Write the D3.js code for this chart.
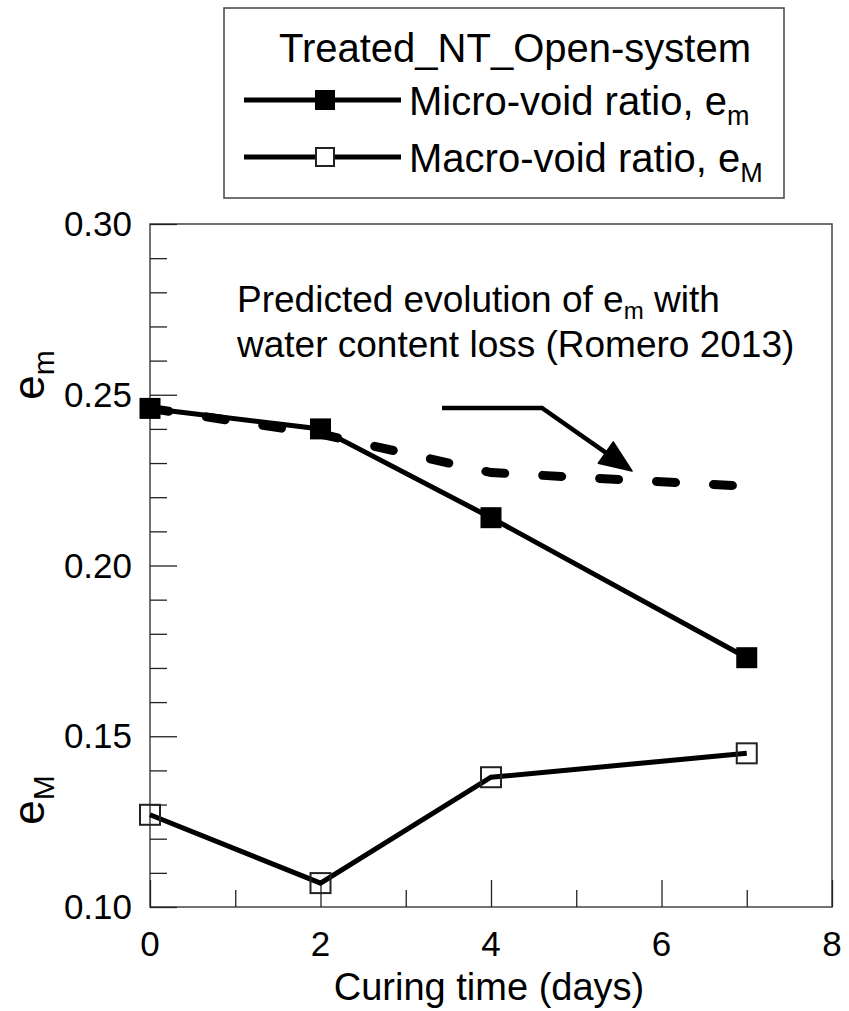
<!DOCTYPE html>
<html>
<head>
<meta charset="utf-8">
<script src="https://cdn.jsdelivr.net/npm/d3@7"></script>
<style>
  html, body { margin: 0; padding: 0; background: #fff; }
  svg { display: block; }
  text { font-family: "Liberation Sans", Arial, Helvetica, sans-serif; fill: #000; }
</style>
</head>
<body>
<svg id="chart" width="849" height="1011"></svg>
<script>
// ---- data ----
const curingDays = [0, 2, 4, 7];
const microVoidRatio = [0.246, 0.240, 0.214, 0.173];
const macroVoidRatio = [0.127, 0.107, 0.138, 0.145];
const predictedDays = [0, 2, 4, 7];
const predictedMicro = [0.246, 0.2385, 0.2272, 0.2232];
const xMajorTicks = [0, 2, 4, 6, 8];
const xMinorTicks = [1, 3, 5, 7];
const yMajorTicks = [0.10, 0.15, 0.20, 0.25, 0.30];
const yMinorTicks = [0.11, 0.12, 0.13, 0.14, 0.16, 0.17, 0.18, 0.19, 0.21, 0.22, 0.23, 0.24, 0.26, 0.27, 0.28, 0.29];
const legendTitle = "Treated_NT_Open-system";
const seriesNames = [["Micro-void ratio, e", "m"], ["Macro-void ratio, e", "M"]];
const xAxisTitle = "Curing time (days)";

// ---- layout ----
const svg = d3.select("#chart");
const L = 150, R = 832, T = 224, B = 907;
const x = d3.scaleLinear().domain([0, 8]).range([L, R]);
const y = d3.scaleLinear().domain([0.10, 0.30]).range([B, T]);

// frame
svg.append("rect").attr("x", L).attr("y", T).attr("width", R - L).attr("height", B - T)
  .attr("fill", "none").attr("stroke", "#444").attr("stroke-width", 1.5);

// axes with inward ticks
const gx = svg.append("g").attr("transform", `translate(0,${B})`);
gx.call(d3.axisTop(x).tickValues(xMajorTicks).tickSize(27).tickFormat(""));
gx.call(g => g.select(".domain").remove());
const gxm = svg.append("g").attr("transform", `translate(0,${B})`);
gxm.call(d3.axisTop(x).tickValues(xMinorTicks).tickSize(17).tickFormat(""));
gxm.call(g => g.select(".domain").remove());

const gy = svg.append("g").attr("transform", `translate(${L},0)`);
gy.call(d3.axisRight(y).tickValues(yMajorTicks).tickSize(27).tickFormat(""));
gy.call(g => g.select(".domain").remove());
const gym = svg.append("g").attr("transform", `translate(${L},0)`);
gym.call(d3.axisRight(y).tickValues(yMinorTicks).tickSize(17).tickFormat(""));
gym.call(g => g.select(".domain").remove());
svg.selectAll(".tick line").attr("stroke", "#222").attr("stroke-width", 1.3);

// tick labels
svg.append("g").selectAll("text").data(xMajorTicks).join("text")
  .attr("x", d => x(d)).attr("y", B + 49).attr("text-anchor", "middle")
  .attr("font-size", 35).text(d => d);
svg.append("g").selectAll("text").data(yMajorTicks).join("text")
  .attr("x", L - 18).attr("y", d => y(d) + 12).attr("text-anchor", "end")
  .attr("font-size", 35).text(d => d.toFixed(2));

// axis title
svg.append("text").attr("x", (L + R) / 2 - 2).attr("y", 1000).attr("text-anchor", "middle")
  .attr("font-size", 38).text(xAxisTitle);

// y axis labels (rotated e_m and e_M)
function yLabel(cy, sub) {
  const t = svg.append("text").attr("transform", `translate(44,${cy}) rotate(-90)`)
    .attr("text-anchor", "middle").attr("font-size", 44);
  t.append("tspan").text("e");
  t.append("tspan").attr("font-size", 30).attr("dy", 10).text(sub);
}
yLabel(375, "m");
yLabel(800, "M");

// predicted dashed line
const line = d3.line().x(d => x(d[0])).y(d => y(d[1]));
svg.append("path").datum(predictedDays.map((d, i) => [d, predictedMicro[i]]))
  .attr("d", line).attr("fill", "none").attr("stroke", "#000")
  .attr("stroke-width", 9).attr("stroke-linecap", "round")
  .attr("stroke-dasharray", "19 38");

// series lines
const microPts = curingDays.map((d, i) => [d, microVoidRatio[i]]);
const macroPts = curingDays.map((d, i) => [d, macroVoidRatio[i]]);
svg.append("path").datum(microPts).attr("d", line).attr("fill", "none")
  .attr("stroke", "#000").attr("stroke-width", 5);
svg.append("path").datum(macroPts).attr("d", line).attr("fill", "none")
  .attr("stroke", "#000").attr("stroke-width", 5);

// markers
const ms = 21;
svg.append("g").selectAll("rect").data(microPts).join("rect")
  .attr("x", d => x(d[0]) - ms / 2).attr("y", d => y(d[1]) - ms / 2)
  .attr("width", ms).attr("height", ms).attr("fill", "#000");
const mo = 20;
svg.append("g").selectAll("rect").data(macroPts).join("rect")
  .attr("x", d => x(d[0]) - mo / 2).attr("y", d => y(d[1]) - mo / 2)
  .attr("width", mo).attr("height", mo).attr("fill", "none")
  .attr("stroke", "#222").attr("stroke-width", 2);

// annotation text
const ann = svg.append("text").attr("x", 237).attr("y", 312).attr("font-size", 37);
ann.append("tspan").text("Predicted evolution of e");
ann.append("tspan").attr("font-size", 24).attr("dy", 7).text("m");
ann.append("tspan").attr("dy", -7).text(" with");
svg.append("text").attr("x", 237).attr("y", 357).attr("font-size", 37)
  .text("water content loss (Romero 2013)");

// annotation arrow
const tip = [632, 471], elbow = [542, 408], start = [442, 408];
const ang = Math.atan2(tip[1] - elbow[1], tip[0] - elbow[0]);
const hl = 32, hw = 13;
const base = [tip[0] - hl * Math.cos(ang), tip[1] - hl * Math.sin(ang)];
svg.append("path")
  .attr("d", `M${start}L${elbow}L${base}`)
  .attr("fill", "none").attr("stroke", "#000").attr("stroke-width", 4.5);
svg.append("path")
  .attr("d", `M${tip}L${base[0] + hw * Math.sin(ang)},${base[1] - hw * Math.cos(ang)}L${base[0] - hw * Math.sin(ang)},${base[1] + hw * Math.cos(ang)}Z`)
  .attr("fill", "#000").attr("stroke", "#000").attr("stroke-width", 1.5).attr("stroke-linejoin", "round");

// legend
svg.append("rect").attr("x", 224).attr("y", 8).attr("width", 560).attr("height", 190)
  .attr("fill", "#fff").attr("stroke", "#444").attr("stroke-width", 1.5);
svg.append("text").attr("x", 515).attr("y", 62).attr("text-anchor", "middle")
  .attr("font-size", 40).text(legendTitle);
const rows = [100, 157];
rows.forEach((ry, i) => {
  svg.append("line").attr("x1", 244).attr("x2", 401).attr("y1", ry).attr("y2", ry)
    .attr("stroke", "#000").attr("stroke-width", 5);
  if (i === 0) {
    svg.append("rect").attr("x", 315).attr("y", ry - 10).attr("width", 20).attr("height", 20).attr("fill", "#000");
  } else {
    svg.append("rect").attr("x", 316).attr("y", ry - 9).attr("width", 18).attr("height", 18)
      .attr("fill", "#fff").attr("stroke", "#222").attr("stroke-width", 2);
  }
  const t = svg.append("text").attr("x", 409).attr("y", ry + 15).attr("font-size", 40);
  t.append("tspan").text(seriesNames[i][0]);
  t.append("tspan").attr("font-size", 27).attr("dy", 10).text(seriesNames[i][1]);
});
</script>
</body>
</html>
